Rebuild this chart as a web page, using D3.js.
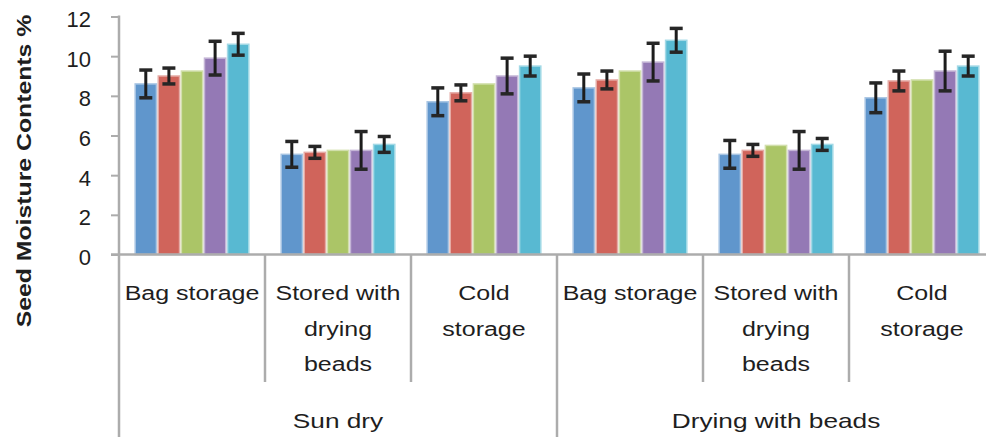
<!DOCTYPE html>
<html>
<head>
<meta charset="utf-8">
<script src="https://cdn.jsdelivr.net/npm/d3@7"></script>
<style>
  body { margin: 0; background: #fff; }
  svg { display: block; }
  text { font-family: "Liberation Sans", Arial, sans-serif; fill: #1e1e1e; }
</style>
</head>
<body>
<svg id="chart" width="986" height="437"></svg>
<script>
// Drying method (outer level) and storage type (inner level, wrapped lines)
const dryingMethods = ["Sun dry", "Drying with beads"];
const storageTypes = [["Bag storage"], ["Stored with", "drying", "beads"], ["Cold", "storage"]];

// Five series, one value per (drying method, storage type) cell
const seriesNames = ["Series 1", "Series 2", "Series 3", "Series 4", "Series 5"];
const series1 = [8.6, 5.05, 7.7, 8.4, 5.05, 7.9];
const series2 = [9.0, 5.15, 8.15, 8.8, 5.25, 8.75];
const series3 = [9.25, 5.25, 8.6, 9.25, 5.5, 8.8];
const series4 = [9.9, 5.25, 9.0, 9.7, 5.25, 9.25];
const series5 = [10.6, 5.55, 9.5, 10.8, 5.55, 9.5];

// Error bar half-widths (series 3 carries none)
const error1 = [0.7, 0.65, 0.7, 0.7, 0.7, 0.75];
const error2 = [0.4, 0.3, 0.4, 0.45, 0.3, 0.5];
const error3 = null;
const error4 = [0.85, 0.95, 0.9, 0.95, 0.95, 1.0];
const error5 = [0.55, 0.4, 0.5, 0.6, 0.3, 0.5];

const yTicks = [0, 2, 4, 6, 8, 10, 12];
const yTitle = "Seed Moisture Contents %";

const seriesValues = [series1, series2, series3, series4, series5];
const seriesErrors = [error1, error2, error3, error4, error5];
const colors = ["#6096cc", "#d0645b", "#abc567", "#9479b5", "#58b9d2"];

// Flatten into category cells
const cells = [];
dryingMethods.forEach((m, mi) => {
  storageTypes.forEach((s, si) => {
    cells.push({ id: m + "|" + s.join(" "), method: m, lines: s, index: mi * storageTypes.length + si });
  });
});

const svg = d3.select("#chart");
const axisColor = "#acacac";
const plotLeft = 119, plotRight = 995, baseY = 254.5, bottom = 437;

const x0 = d3.scaleBand().domain(cells.map(c => c.id)).range([plotLeft, plotRight]).padding(0);
const x1 = d3.scaleBand().domain(seriesNames).range([0, x0.bandwidth()])
  .paddingInner(0.08).paddingOuter(0.7);
const y = d3.scaleLinear().domain([0, 12]).range([baseY, 16.5]);

// Bars
const groups = svg.append("g").selectAll("g").data(cells).join("g")
  .attr("transform", d => `translate(${x0(d.id)},0)`);

groups.selectAll("rect")
  .data(c => seriesNames.map((name, i) => ({ name, i, v: seriesValues[i][c.index] })))
  .join("rect")
  .attr("x", d => x1(d.name))
  .attr("width", x1.bandwidth())
  .attr("y", d => y(d.v))
  .attr("height", d => baseY - y(d.v))
  .attr("fill", d => colors[d.i])
  .attr("stroke", d => d3.interpolateRgb(colors[d.i], "#ffffff")(0.45))
  .attr("stroke-width", 1.5);

// Error bars
const capHalf = 6.5;
groups.selectAll("g.err")
  .data(c => seriesNames.map((name, i) => ({ name, i, v: seriesValues[i][c.index], e: seriesErrors[i] ? seriesErrors[i][c.index] : null }))
    .filter(d => d.e != null))
  .join("g")
  .attr("class", "err")
  .each(function (d) {
    const g = d3.select(this);
    const cx = x1(d.name) + x1.bandwidth() / 2;
    const yt = y(d.v + d.e), yb = y(d.v - d.e);
    g.append("line").attr("x1", cx).attr("x2", cx).attr("y1", yt).attr("y2", yb)
      .attr("stroke", "#1c1c1c").attr("stroke-width", 3);
    [yt, yb].forEach(yy => g.append("line")
      .attr("x1", cx - capHalf).attr("x2", cx + capHalf).attr("y1", yy).attr("y2", yy)
      .attr("stroke", "#262626").attr("stroke-width", 3.5));
  });

// Value axis
const yAxis = svg.append("g")
  .attr("transform", `translate(${plotLeft},0)`)
  .call(d3.axisLeft(y).tickValues(yTicks).tickFormat(d3.format("d")).tickSize(8).tickPadding(20));
yAxis.select(".domain").remove();
yAxis.selectAll(".tick line").attr("stroke", axisColor).attr("stroke-width", 2);
yAxis.selectAll(".tick text").attr("font-size", 22).attr("dy", "0.46em")
  .style("font-family", '"Liberation Sans", Arial, sans-serif').attr("fill", "#1e1e1e");

// Axis lines
svg.append("line").attr("x1", plotLeft).attr("x2", plotLeft).attr("y1", y(12) - 1).attr("y2", bottom)
  .attr("stroke", axisColor).attr("stroke-width", 2.5);
svg.append("line").attr("x1", plotLeft - 8).attr("x2", plotRight).attr("y1", baseY).attr("y2", baseY)
  .attr("stroke", axisColor).attr("stroke-width", 2.5);

// Category separators: inner ones stop above the outer labels, outer ones run to the bottom
const perMethod = storageTypes.length;
cells.forEach((c, i) => {
  if (i === 0) return;
  const xs = x0(c.id);
  const outer = i % perMethod === 0;
  svg.append("line").attr("x1", xs).attr("x2", xs).attr("y1", baseY).attr("y2", outer ? bottom : 382)
    .attr("stroke", axisColor).attr("stroke-width", 2.5);
});
svg.append("line").attr("x1", plotRight).attr("x2", plotRight).attr("y1", baseY).attr("y2", bottom)
  .attr("stroke", axisColor).attr("stroke-width", 2.5);

// Inner category labels
const lineBase = 300, lineStep = 35.5, stretch = 1.25;
cells.forEach(c => {
  const cx = x0(c.id) + x0.bandwidth() / 2;
  c.lines.forEach((t, li) => {
    svg.append("text")
      .attr("transform", `translate(${cx},${lineBase + li * lineStep}) scale(${stretch},1)`)
      .attr("text-anchor", "middle").attr("font-size", 20).text(t);
  });
});

// Outer category labels
dryingMethods.forEach((m, mi) => {
  const first = cells[mi * perMethod], last = cells[mi * perMethod + perMethod - 1];
  const cx = (x0(first.id) + x0(last.id) + x0.bandwidth()) / 2;
  svg.append("text")
    .attr("transform", `translate(${cx},428) scale(${stretch},1)`)
    .attr("text-anchor", "middle").attr("font-size", 21).text(m);
});

// Value axis title
svg.append("text")
  .attr("transform", "translate(31,171) rotate(-90) scale(1.24,1)")
  .attr("text-anchor", "middle").attr("font-size", 20).attr("font-weight", "bold")
  .text(yTitle);
</script>
</body>
</html>
